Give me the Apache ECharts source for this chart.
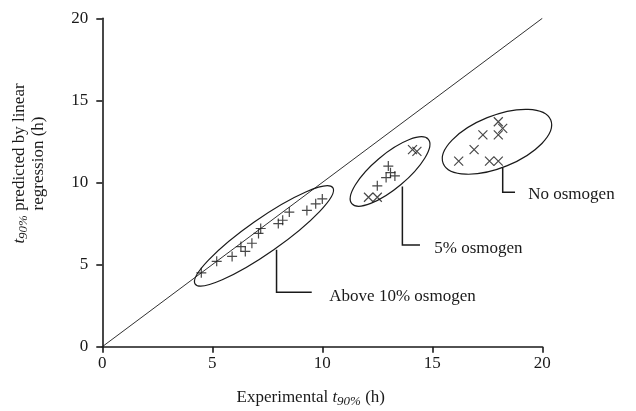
<!DOCTYPE html>
<html><head><meta charset="utf-8">
<script src="https://cdn.jsdelivr.net/npm/echarts@6/dist/echarts.min.js"></script>
<style>html,body{margin:0;padding:0;background:#fff}#c{width:636px;height:411px}</style>
</head><body><div id="c"></div>
<script>
// ---- data ----
const xTicks = [0, 5, 10, 15, 20];
const yTicks = [0, 5, 10, 15, 20];
const identityLine = [[0, 0], [20, 20]];
// Above 10% osmogen (plus markers)
const above10 = [[4.5,4.5],[5.2,5.2],[5.9,5.5],[6.3,6.1],[6.5,5.8],[6.8,6.3],[7.1,6.9],[7.2,7.2],[8.0,7.5],[8.2,7.7],[8.5,8.2],[9.3,8.3],[9.7,8.7],[10.0,9.0]];
// 5% osmogen
const five_cross = [[12.1,9.1],[12.5,9.1],[14.1,12.0],[14.3,11.9]];
const five_plus = [[12.5,9.8],[12.9,10.3],[13.0,11.0],[13.1,10.6],[13.3,10.4]];
// No osmogen
const none = [[16.2,11.3],[16.9,12.0],[17.3,12.9],[17.6,11.3],[18.0,11.3],[18.0,12.9],[18.0,13.7],[18.2,13.3]];
// group annotations (data coords)
const groupNames = ['Above 10% osmogen', '5% osmogen', 'No osmogen'];
const ellipseCenters = [[7.35, 6.75], [13.08, 10.67], [17.94, 12.48]];
const leaders = [
  [[7.92, 5.9], [7.92, 3.32], [9.52, 3.32]],
  [[13.64, 9.76], [13.64, 6.2], [14.44, 6.2]],
  [[18.2, 10.92], [18.2, 9.4], [18.76, 9.4]]
];
const labelAnchors = [[10.32, 3.05], [15.09, 6.0], [19.36, 9.25]];

// ---- style (pixel sizes of ellipses) ----
const ellipseShape = [{rx: 84, ry: 17, rot: 35}, {rx: 50, ry: 17, rot: 40}, {rx: 58, ry: 26, rot: 22}];
const FONT = 'Liberation Serif';
const PLUS = 'path://M0,5L10,5M5,0L5,10';
const CROSS = 'path://M0,0L10,10M10,0L0,10';

const chart = echarts.init(document.getElementById('c'), null, {renderer: 'canvas'});
const markerStyle = {color: 'transparent', borderColor: '#1a1a1a', borderWidth: 1.2};

chart.setOption({
  animation: false,
  backgroundColor: '#fff',
  grid: {left: 102.3, right: 93.7, top: 18.3, bottom: 64.3, containLabel: false, outerBoundsMode: 'none'},
  xAxis: {
    type: 'value', min: 0, max: 20, interval: 5,
    axisLine: {lineStyle: {color: '#1a1a1a', width: 1.6}},
    axisTick: {show: true, length: 6, lineStyle: {color: '#1a1a1a', width: 1.6}},
    splitLine: {show: false},
    axisLabel: {color: '#1a1a1a', fontFamily: FONT, fontSize: 17, margin: 8,
      formatter: v => xTicks.includes(v) ? String(v) : ''},
    name: '{n|Experimental }{i|t}{s|90%}{n| (h)}',
    nameLocation: 'middle', nameGap: 40,
    nameTextStyle: {padding: [0, 23, 0, 0], rich: {
      n: {fontFamily: FONT, fontSize: 17, color: '#1a1a1a'},
      i: {fontFamily: FONT, fontSize: 17, fontStyle: 'italic', color: '#1a1a1a'},
      s: {fontFamily: FONT, fontSize: 13, fontStyle: 'italic', color: '#1a1a1a', padding: [8, 0, 0, 0]}
    }}
  },
  yAxis: {
    type: 'value', min: 0, max: 20, interval: 5,
    axisLine: {lineStyle: {color: '#1a1a1a', width: 1.6}},
    axisTick: {show: true, length: 6, lineStyle: {color: '#1a1a1a', width: 1.6}},
    splitLine: {show: false},
    axisLabel: {color: '#1a1a1a', fontFamily: FONT, fontSize: 17, margin: 14,
      formatter: v => yTicks.includes(v) ? String(v) : ''},
    name: '{i|t}{s|90%}{n| predicted by linear}\n{n|regression (h)}',
    nameLocation: 'middle', nameGap: 54,
    nameTextStyle: {align: 'center', padding: [0, 0, 0, 38], lineHeight: 19, rich: {
      n: {fontFamily: FONT, fontSize: 17, color: '#1a1a1a', lineHeight: 19},
      i: {fontFamily: FONT, fontSize: 17, fontStyle: 'italic', color: '#1a1a1a', lineHeight: 19},
      s: {fontFamily: FONT, fontSize: 13, fontStyle: 'italic', color: '#1a1a1a', lineHeight: 19, padding: [8, 0, 0, 0]}
    }}
  },
  series: [
    {type: 'line', data: identityLine, symbol: 'none', lineStyle: {color: '#1a1a1a', width: 0.9}, z: 1},
    {type: 'scatter', name: groupNames[0], data: above10, symbol: PLUS, symbolSize: 10, itemStyle: markerStyle, z: 3},
    {type: 'scatter', name: groupNames[1], data: five_plus, symbol: PLUS, symbolSize: 10, itemStyle: markerStyle, z: 3},
    {type: 'scatter', name: groupNames[1], data: five_cross, symbol: CROSS, symbolSize: 9, itemStyle: markerStyle, z: 3},
    {type: 'scatter', name: groupNames[2], data: none, symbol: CROSS, symbolSize: 9, itemStyle: markerStyle, z: 3},
    {
      type: 'custom', data: ellipseCenters, z: 2, silent: true,
      renderItem: function (params, api) {
        const i = params.dataIndex;
        const p = api.coord([api.value(0), api.value(1)]);
        const e = ellipseShape[i];
        const pts = leaders[i].map(d => api.coord(d));
        const lab = api.coord(labelAnchors[i]);
        return {type: 'group', children: [
          {type: 'ellipse', x: p[0], y: p[1], rotation: e.rot * Math.PI / 180,
            shape: {cx: 0, cy: 0, rx: e.rx, ry: e.ry},
            style: {fill: 'none', stroke: '#1a1a1a', lineWidth: 1.2}},
          {type: 'polyline', shape: {points: pts},
            style: {fill: 'none', stroke: '#1a1a1a', lineWidth: 1.5}},
          {type: 'text', x: lab[0], y: lab[1],
            style: {text: groupNames[i], fill: '#1a1a1a', font: '17px "' + FONT + '"', textAlign: 'left', textVerticalAlign: 'middle'}}
        ]};
      }
    }
  ]
});
</script></body></html>
